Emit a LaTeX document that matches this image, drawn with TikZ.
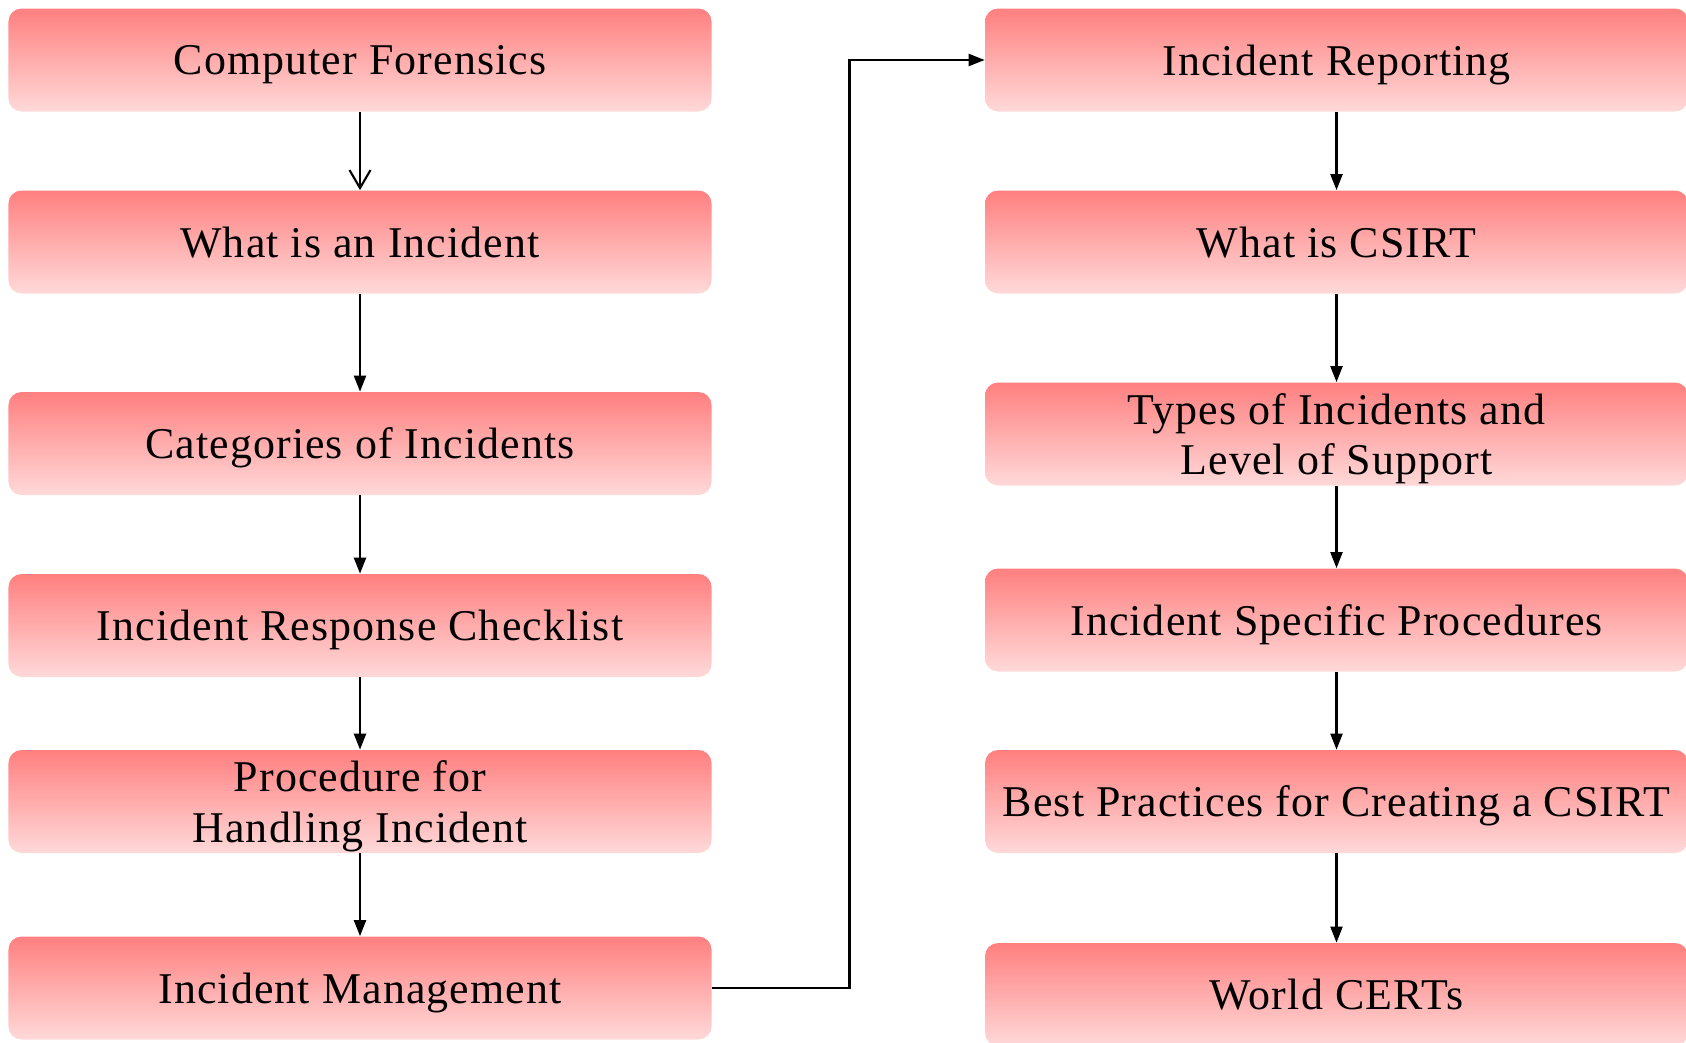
\documentclass[tikz,border=0pt]{standalone}
\usepackage{fontspec}
\setmainfont{Liberation Serif}[LetterSpace=2.5]
\usetikzlibrary{arrows.meta}

\begin{document}
\begin{tikzpicture}[
  topic/.style={rectangle, rounded corners=0.26cm, minimum width=14.06cm,
    minimum height=2.06cm, top color=red!50, bottom color=red!15,
    draw=none, align=center, text depth=0pt, font=\fontsize{25}{28.5}\selectfont},
  link/.style={line width=1.2pt, -{Triangle[length=0.32cm,width=0.24cm]}}
]
\useasboundingbox (0, 0) rectangle (33.72, -20.84);
% left column
\node [topic] (forensics) at (7.2, -1.2) {Computer Forensics};
\node [topic] (incident) at (7.2, -4.84) {What is an Incident};
\node [topic] (categories) at (7.2, -8.87) {Categories of Incidents};
\node [topic] (checklist) at (7.2, -12.51) {Incident Response Checklist};
\node [topic] (procedure) at (7.2, -16.03) {Procedure for\\Handling Incident};
\node [topic] (management) at (7.2, -19.76) {Incident Management};
% right column
\node [topic] (reporting) at (26.73, -1.2) {Incident Reporting};
\node [topic] (csirt) at (26.73, -4.84) {What is CSIRT};
\node [topic] (types) at (26.73, -8.68) {Types of Incidents and\\Level of Support};
\node [topic] (specific) at (26.73, -12.4) {Incident Specific Procedures};
\node [topic] (practices) at (26.73, -16.03) {Best Practices for Creating a CSIRT};
\node [topic] (certs) at (26.73, -19.89) {World CERTs};
\coordinate (elbow) at (16.99, -1.2);

\draw [line width=1.2pt, -{Straight Barb[length=0.36cm,width=0.42cm]}] (forensics) -- (incident);
\draw [link] (incident) -- (categories);
\draw [link] (categories) -- (checklist);
\draw [link] (checklist) -- (procedure);
\draw [link] (procedure) -- (management);
\draw [link] (management.east) -| (elbow) -- (reporting.west);
\draw [link] (reporting) -- (csirt);
\draw [link] (csirt) -- (types);
\draw [link] (types) -- (specific);
\draw [link] (specific) -- (practices);
\draw [link] (practices) -- (certs);
\end{tikzpicture}
\end{document}
